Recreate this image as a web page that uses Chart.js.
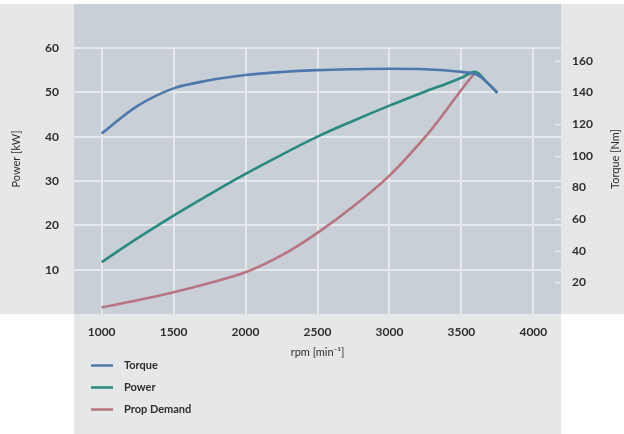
<!DOCTYPE html>
<html><head><meta charset="utf-8">
<script src="https://cdn.jsdelivr.net/npm/chart.js@4.4.0/dist/chart.umd.min.js"></script>
<style>html,body{margin:0;padding:0;background:#fff;}#wrap{width:624px;height:434px;position:relative}</style>
</head><body><div id="wrap"><canvas id="c" width="624" height="434"></canvas></div>
<script>
// ---- data ----
const rpm       = [1000, 1250, 1500, 1750, 2000, 2250, 2500, 2750, 3000, 3250, 3400, 3500, 3600, 3675, 3750];
const torqueNm  = [114.0, 131.4, 142.5, 147.6, 150.9, 152.8, 154.0, 154.6, 154.9, 154.6, 153.8, 152.9, 151.4, 146.6, 139.7];
const powerKW   = [11.7, 17.1, 22.2, 27.0, 31.6, 35.9, 40.0, 43.6, 47.0, 50.2, 52.0, 53.3, 54.6, 52.3, 49.9];
const propKW    = [1.5, 3.1, 4.9, 7.0, 9.4, 13.2, 18.3, 24.3, 31.2, 40.0, 46.2, 50.6, 54.7, null, null];
const seriesNames = ['Torque', 'Power', 'Prop Demand'];
const xTicks     = [1000, 1500, 2000, 2500, 3000, 3500, 4000];
const leftTicks  = [10, 20, 30, 40, 50, 60];
const rightTicks = [20, 40, 60, 80, 100, 120, 140, 160];
const xTitle = 'rpm [min⁻¹]';
const leftTitle = 'Power [kW]';
const rightTitle = 'Torque [Nm]';

// ---- style ----
const LIGHT = '#e6e7e9', DARK = '#c8cfd6', GRID = '#e6e9ec', TXT = '#2e2e2e';
const COLORS = ['#4d78ad', '#288a80', '#b8757f'];
const FONT = 'Lato';

const decor = {
  id: 'decor',
  beforeDraw(chart) {
    const {ctx, chartArea: a} = chart;
    ctx.save();
    ctx.fillStyle = LIGHT;
    ctx.fillRect(0, 4, chart.width, a.bottom - 4);
    ctx.fillRect(a.left, a.bottom, a.right - a.left, chart.height - a.bottom);
    ctx.fillStyle = DARK;
    ctx.fillRect(a.left, 4, a.right - a.left, a.bottom - 4);
    ctx.restore();
  },
  beforeDatasetsDraw(chart) {
    const {ctx, chartArea: a} = chart;
    const y2 = chart.scales.y2;
    ctx.save();
    ctx.strokeStyle = GRID; ctx.lineWidth = 1.5;
    rightTicks.forEach(v => {
      const y = Math.round(y2.getPixelForValue(v)) + 0.5;
      ctx.beginPath(); ctx.moveTo(a.right - 6, y); ctx.lineTo(a.right, y); ctx.stroke();
    });
    ctx.restore();
  },
  afterDraw(chart) {
    const {ctx, chartArea: a} = chart;
    ctx.save();
    ctx.fillStyle = TXT;
    ctx.textAlign = 'center'; ctx.textBaseline = 'middle';
    ctx.font = `11px ${FONT}`;
    ctx.fillText(xTitle, (a.left + a.right) / 2, 352);
    const cy = (4 + a.bottom) / 2;
    ctx.save(); ctx.translate(16.5, cy); ctx.rotate(-Math.PI / 2); ctx.fillText(leftTitle, 0, 0); ctx.restore();
    ctx.save(); ctx.translate(615.5, cy); ctx.rotate(-Math.PI / 2); ctx.fillText(rightTitle, 0, 0); ctx.restore();
    // legend
    chart.data.datasets.forEach((ds, i) => {
      const y = 365.5 + i * 22;
      ctx.strokeStyle = ds.borderColor; ctx.lineWidth = 2.5;
      ctx.beginPath(); ctx.moveTo(91, y); ctx.lineTo(113, y); ctx.stroke();
      ctx.fillStyle = TXT; ctx.textAlign = 'left';
      ctx.font = `bold 11px ${FONT}`;
      ctx.fillText(ds.label, 124, y);
    });
    ctx.restore();
  }
};

const mk = (vals, i, axis) => ({
  label: seriesNames[i],
  data: rpm.map((r, k) => ({x: r, y: vals[k]})),
  yAxisID: axis,
  borderColor: COLORS[i], backgroundColor: COLORS[i],
  borderWidth: 2.6, pointRadius: 0, tension: 0.35, spanGaps: false
});

const plain = v => String(v);

new Chart(document.getElementById('c'), {
  type: 'line',
  data: { datasets: [mk(torqueNm, 0, 'y2'), mk(powerKW, 1, 'y'), mk(propKW, 2, 'y')] },
  options: {
    responsive: false, animation: false, devicePixelRatio: 1,
    layout: { padding: { top: 48, left: 0, right: 0, bottom: 0 } },
    plugins: { legend: { display: false }, tooltip: { enabled: false } },
    scales: {
      x: {
        type: 'linear', min: 808, max: 4192,
        afterBuildTicks: s => { s.ticks = xTicks.map(v => ({value: v})); },
        afterFit: s => { s.height = 120; },
        grid: { color: GRID, lineWidth: 2, drawTicks: false },
        border: { display: false },
        ticks: { color: TXT, font: { family: FONT, size: 12, weight: 'bold' }, padding: 11, maxRotation: 0, callback: plain }
      },
      y: {
        position: 'left', min: 0, max: 60,
        afterBuildTicks: s => { s.ticks = leftTicks.map(v => ({value: v})); },
        afterFit: s => { s.width = 74; },
        grid: { color: GRID, lineWidth: 2, drawTicks: false },
        border: { display: false },
        ticks: { color: TXT, font: { family: FONT, size: 12, weight: 'bold' }, padding: 15, callback: plain }
      },
      y2: {
        position: 'right', min: 0, max: 168,
        afterBuildTicks: s => { s.ticks = rightTicks.map(v => ({value: v})); },
        afterFit: s => { s.width = 63; },
        grid: { drawOnChartArea: false, drawTicks: false },
        border: { display: false },
        ticks: { color: TXT, font: { family: FONT, size: 12, weight: 'bold' }, padding: 11, callback: plain }
      }
    }
  },
  plugins: [decor]
});
</script></body></html>
